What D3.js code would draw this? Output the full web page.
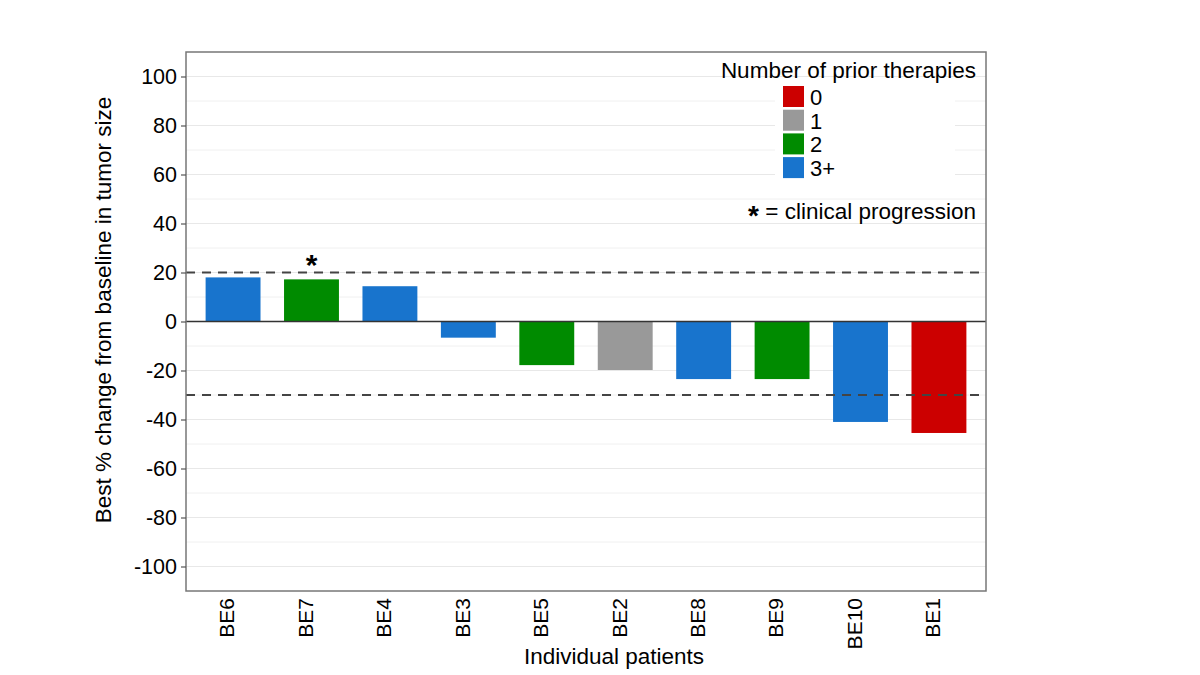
<!DOCTYPE html>
<html><head><meta charset="utf-8">
<script src="https://cdn.jsdelivr.net/npm/d3@7"></script>
<style>body{margin:0;background:#fff}svg{display:block;font-family:"Liberation Sans",Arial,sans-serif}</style>
</head><body><svg id="c" width="1200" height="675"></svg>
<script>
const patients = ["BE6","BE7","BE4","BE3","BE5","BE2","BE8","BE9","BE10","BE1"];
const changes = [18.0, 17.2, 14.4, -6.6, -17.8, -19.8, -23.5, -23.5, -41.0, -45.5];
const therapies = ["3+","2","3+","3+","2","1","3+","2","3+","0"];
const progression = ["BE7"];
const groups = ["0","1","2","3+"];
const groupColors = ["#CC0000","#999999","#008B00","#1874CD"];
const yTicks = [-100,-80,-60,-40,-20,0,20,40,60,80,100];
const yMinor = [-90,-70,-50,-30,-10,10,30,50,70,90];
const refLines = [20,-30];

const svg = d3.select("#c");
const L=186,R=986,T=52,B=591;
const x = d3.scaleBand().domain(patients).range([L,R]).paddingInner(0.3).paddingOuter(0.25);
const y = d3.scaleLinear().domain([-110,110]).range([B,T]);
const color = d3.scaleOrdinal().domain(groups).range(groupColors);

// gridlines
svg.append("g").selectAll("line").data(yMinor).join("line")
  .attr("x1",L).attr("x2",R).attr("y1",d=>y(d)).attr("y2",d=>y(d))
  .attr("stroke","#f0f0f0").attr("stroke-width",1);
svg.append("g").selectAll("line").data(yTicks).join("line")
  .attr("x1",L).attr("x2",R).attr("y1",d=>y(d)).attr("y2",d=>y(d))
  .attr("stroke","#e8e8e8").attr("stroke-width",1.2);

// legend background
svg.append("rect").attr("x",775).attr("y",84).attr("width",180).attr("height",99).attr("fill","#fff");

// bars
const data = patients.map((p,i)=>({p,v:changes[i],g:therapies[i]}));
svg.append("g").selectAll("rect").data(data).join("rect")
  .attr("x",d=>x(d.p)).attr("width",x.bandwidth())
  .attr("y",d=>y(Math.max(0,d.v))).attr("height",d=>Math.abs(y(d.v)-y(0)))
  .attr("fill",d=>color(d.g));

// zero line
svg.append("line").attr("x1",L).attr("x2",R).attr("y1",y(0)).attr("y2",y(0))
  .attr("stroke","#333").attr("stroke-width",1.5);
// reference dashed lines
svg.append("g").selectAll("line").data(refLines).join("line")
  .attr("x1",L).attr("x2",R).attr("y1",d=>y(d)).attr("y2",d=>y(d))
  .attr("stroke","#444").attr("stroke-width",2).attr("stroke-dasharray","9,7");

// asterisk
svg.append("g").selectAll("text").data(data.filter(d=>progression.includes(d.p))).join("text")
  .attr("x",d=>x(d.p)+x.bandwidth()/2).attr("y",d=>y(d.v)-4)
  .attr("text-anchor","middle").attr("font-size",30).attr("font-weight","bold").attr("fill","#000").text("*");

// panel border
svg.append("rect").attr("x",L).attr("y",T).attr("width",R-L).attr("height",B-T)
  .attr("fill","none").attr("stroke","#777").attr("stroke-width",1.5);

// y axis
const yAxis = svg.append("g").attr("transform",`translate(${L},0)`)
  .call(d3.axisLeft(y).tickValues(yTicks).tickSize(5).tickPadding(4).tickFormat(d=>String(d)));
yAxis.select(".domain").remove();
yAxis.selectAll("line").attr("stroke","#555").attr("stroke-width",1.2);
yAxis.selectAll("text").attr("font-size",21.5).attr("fill","#000").attr("font-family","Liberation Sans, Arial");

// x axis
const xAxis = svg.append("g").attr("transform",`translate(0,${B})`)
  .call(d3.axisBottom(x).tickSize(0).tickPadding(0));
xAxis.select(".domain").remove();
xAxis.selectAll("text").attr("font-size",21).attr("fill","#000").attr("font-family","Liberation Sans, Arial")
  .attr("text-anchor","end").attr("transform","translate(-6,7) rotate(-90)")
  .attr("x",0).attr("y",0).attr("dy","0.35em");

// axis titles
svg.append("text").attr("x",614).attr("y",664).attr("text-anchor","middle")
  .attr("font-size",22.5).text("Individual patients");
svg.append("text").attr("transform","translate(111,310) rotate(-90)").attr("text-anchor","middle")
  .attr("font-size",22.5).text("Best % change from baseline in tumor size");

// legend
svg.append("text").attr("x",976).attr("y",78).attr("text-anchor","end").attr("font-size",22.5).text("Number of prior therapies");
const lg = svg.append("g").selectAll("g").data(groups).join("g")
  .attr("transform",(d,i)=>`translate(783,${86+i*23.7})`);
lg.append("rect").attr("width",21).attr("height",21).attr("fill",d=>color(d));
lg.append("text").attr("x",27).attr("y",11).attr("dy","0.36em").attr("font-size",22).text(d=>d);

const note = svg.append("text").attr("x",976).attr("y",219).attr("text-anchor","end").attr("font-size",22.5);
note.append("tspan").attr("font-size",28).attr("font-weight","bold").attr("dy","6").text("*");
note.append("tspan").attr("dy","-6").text(" = clinical progression");
</script></body></html>
